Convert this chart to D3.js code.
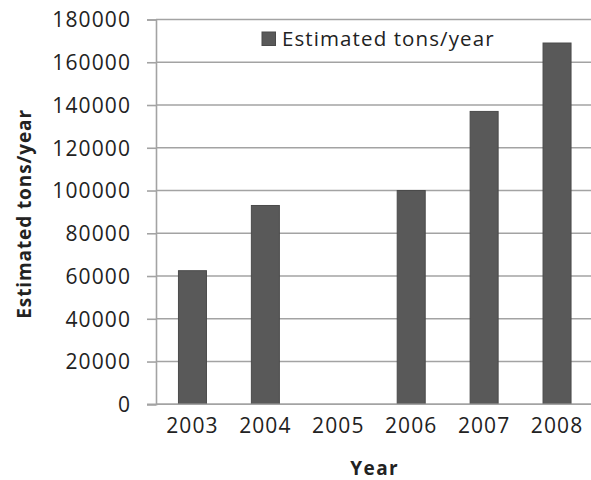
<!DOCTYPE html>
<html>
<head>
<meta charset="utf-8">
<script src="https://cdn.jsdelivr.net/npm/d3@7"></script>
<style>
  html, body { margin: 0; padding: 0; background: #fff; }
  svg { display: block; }
  text { font-family: "Open Sans", "Noto Sans", sans-serif; fill: #222; }
</style>
</head>
<body>
<svg id="chart" width="591" height="480"></svg>
<script>
// Estimated tons per year, by year (2005 has no reported value)
const years = ["2003", "2004", "2005", "2006", "2007", "2008"];
const tons = [62500, 93000, null, 100000, 137000, 169000];
const yTicks = [0, 20000, 40000, 60000, 80000, 100000, 120000, 140000, 160000, 180000];
const seriesName = "Estimated tons/year";
const xTitle = "Year";
const yTitle = "Estimated tons/year";

const svg = d3.select("#chart");
const plotLeft = 156, plotRight = 593.5, plotTop = 19.5, plotBottom = 404.3;

const x = d3.scaleBand().domain(years).range([plotLeft, plotRight])
  .paddingInner(0.616).paddingOuter(0.308);
const y = d3.scaleLinear().domain([0, 180000]).range([plotBottom, plotTop]);

const gridColor = "#a3a3a3";

// horizontal gridlines
svg.append("g").selectAll("line").data(yTicks).join("line")
  .attr("x1", plotLeft).attr("x2", 591)
  .attr("y1", d => y(d)).attr("y2", d => y(d))
  .attr("stroke", gridColor).attr("stroke-width", 1.6);

// y axis with outward ticks
const yAxis = svg.append("g").attr("transform", `translate(${plotLeft},0)`)
  .call(d3.axisLeft(y).tickValues(yTicks).tickSize(9).tickPadding(16).tickFormat(d3.format("d")));
yAxis.select(".domain").attr("stroke", gridColor).attr("stroke-width", 1.6);
yAxis.selectAll(".tick line").attr("stroke", gridColor).attr("stroke-width", 1.6);
yAxis.selectAll(".tick text").style("font-size", "21px").style("letter-spacing", "1.1px")
  .attr("fill", "#222").attr("dy", "0.35em");

// x axis labels
const xAxis = svg.append("g").attr("transform", `translate(0,${plotBottom})`)
  .call(d3.axisBottom(x).tickSize(0).tickPadding(14));
xAxis.select(".domain").remove();
xAxis.selectAll(".tick text").style("font-size", "21px").style("letter-spacing", "1.1px")
  .attr("fill", "#222");

// bars
svg.append("g").selectAll("rect")
  .data(years.map((yr, i) => ({ yr, v: tons[i] })).filter(d => d.v != null))
  .join("rect")
  .attr("x", d => x(d.yr))
  .attr("width", x.bandwidth())
  .attr("y", d => y(d.v))
  .attr("height", d => y(0) - y(d.v))
  .attr("fill", "#595959")
  .attr("stroke", "#4a4a4a").attr("stroke-width", 1);

// baseline
svg.append("line")
  .attr("x1", plotLeft - 9).attr("x2", 591)
  .attr("y1", plotBottom).attr("y2", plotBottom)
  .attr("stroke", gridColor).attr("stroke-width", 1.6);

// legend
const lg = svg.append("g");
lg.append("rect").attr("x", 262).attr("y", 32).attr("width", 13.5).attr("height", 13.5)
  .attr("fill", "#595959").attr("stroke", "#4a4a4a");
lg.append("text").attr("x", 282).attr("y", 46).style("font-size", "20.5px")
  .style("letter-spacing", "1.1px").text(seriesName);

// axis titles
svg.append("text")
  .attr("x", (plotLeft + plotRight) / 2).attr("y", 475)
  .attr("text-anchor", "middle").style("font-size", "19px").style("font-weight", "bold")
  .style("letter-spacing", "1.4px")
  .text(xTitle);

svg.append("text")
  .attr("transform", `translate(31,${(plotTop + plotBottom) / 2 + 2}) rotate(-90)`)
  .attr("text-anchor", "middle").style("font-size", "19px").style("font-weight", "bold")
  .style("letter-spacing", "0.9px")
  .text(yTitle);
</script>
</body>
</html>
